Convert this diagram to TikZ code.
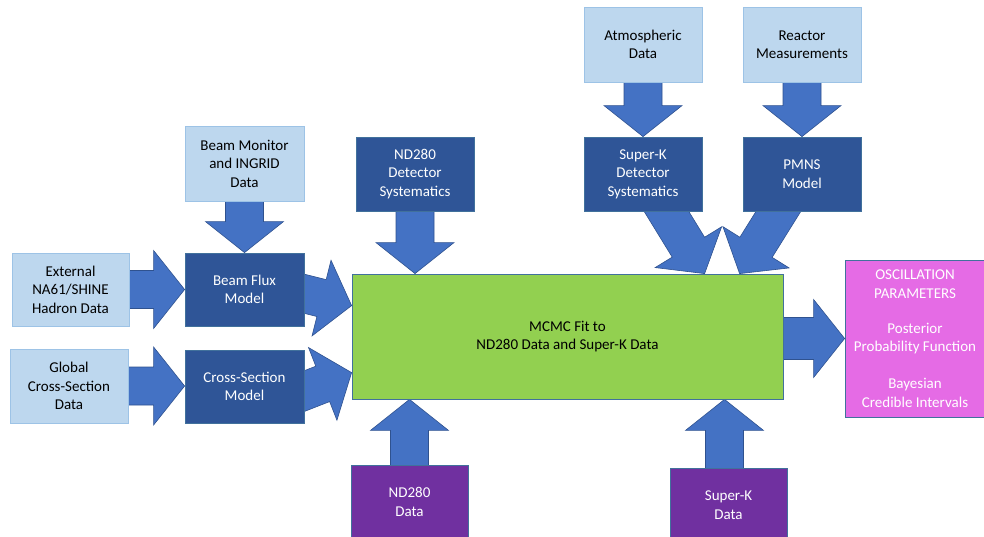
\documentclass[tikz,border=0pt]{standalone}
\usepackage{fontspec}
\setmainfont{Carlito}
\usetikzlibrary{calc,backgrounds}

\definecolor{lightbox}{HTML}{BDD7EE}
\definecolor{lightedge}{HTML}{9DC3E6}
\definecolor{darkbox}{HTML}{2F5597}
\definecolor{darkedge}{HTML}{41719C}
\definecolor{arrowblue}{HTML}{4472C4}
\definecolor{arrowedge}{HTML}{2F528F}
\definecolor{fitgreen}{HTML}{92D050}
\definecolor{datapurple}{HTML}{7030A0}
\definecolor{resultpink}{HTML}{E56BE5}

\tikzset{
  box/.style={rectangle, align=center, inner sep=0pt, line width=0.8pt,
    minimum width=118pt, minimum height=74pt,
    font=\fontsize{15}{18.5}\selectfont},
  inbox/.style={box, fill=lightbox, draw=lightedge, text=black},
  modelbox/.style={box, fill=darkbox, draw=darkedge, text=white},
  databox/.style={box, fill=datapurple, draw=darkedge, text=white},
  fitbox/.style={box, fill=fitgreen, draw=darkedge, text=black},
  outbox/.style={box, fill=resultpink, draw=darkedge, text=white},
  fatarrow/.style={fill=arrowblue, draw=arrowedge, line width=0.6pt},
}

% block arrow from #2 to its tip #3, half width of the shaft #1
\newcommand{\fatarrow}[3][19pt]{%
  \coordinate (fa-b) at ($(#3)!31pt!(#2)$);
  \draw[fatarrow] ($(#2)!#1!90:(#3)$) -- ($(fa-b)!#1!90:(#3)$)
    -- ($(fa-b)!39pt!90:(#3)$) -- (#3) -- ($(fa-b)!39pt!-90:(#3)$)
    -- ($(fa-b)!#1!-90:(#3)$) -- ($(#2)!#1!-90:(#3)$) -- cycle;
}

\begin{document}
\begin{tikzpicture}[x=1pt,y=-1pt]
  \useasboundingbox (0,0) rectangle (984,537);

  % beam side
  \node[inbox, minimum width=119pt, minimum height=75pt] (beammon) at (244.5,163.5) {Beam Monitor\\and INGRID\\Data};
  \node[inbox, minimum width=117pt, minimum height=73pt] (external) at (70.5,289.5) {External\\NA61/SHINE\\Hadron Data};
  \node[inbox] (global) at (69,386) {Global\\Cross-Section\\Data};
  \node[modelbox, minimum width=119pt, minimum height=73pt] (flux) at (244.5,289.5) {Beam Flux\\Model};
  \node[modelbox, minimum width=119pt, minimum height=73pt] (xsec) at (244.5,386.5) {Cross-Section\\Model};

  % detectors and oscillation inputs
  \node[modelbox] (ndsys) at (415,174) {ND280\\Detector\\Systematics};
  \node[modelbox] (sksys) at (643,174) {Super-K\\Detector\\Systematics};
  \node[modelbox] (pmns) at (802,174) {PMNS\\Model};
  \node[inbox, minimum height=75pt] (atmos) at (643,44.5) {Atmospheric\\Data};
  \node[inbox, minimum height=75pt] (reactor) at (802,44.5) {Reactor\\Measurements};

  % fit and result
  \node[fitbox, minimum width=431pt, minimum height=125pt] (fit) at (567.5,336.5) {MCMC Fit to\\ND280 Data and Super-K Data};
  \node[outbox, minimum width=140pt, minimum height=157pt] (osc) at (915,338.5)
    {OSCILLATION\\PARAMETERS\\[16.5pt]Posterior\\Probability Function\\[18.5pt]Bayesian\\Credible Intervals};

  % data
  \node[databox, minimum width=117pt] (nddata) at (409.5,502) {ND280\\Data};
  \node[databox, minimum width=117pt] (skdata) at (728.5,505) {Super-K\\Data};

  % arrow ends
  \coordinate (global-in) at (global.center -| xsec.west);
  \coordinate (flux-out) at ($(flux.east)+(-29,-3)$);
  \coordinate (flux-in) at ($(fit.north west)+(0,32)$);
  \coordinate (xsec-out) at ($(xsec.east)+(-28,15.5)$);
  \coordinate (xsec-in) at ($(fit.north west)+(0,99)$);
  \coordinate (ndsys-in) at (ndsys.south |- fit.north);
  \coordinate (sksys-out) at ($(sksys.south)+(13,-17)$);
  \coordinate (sksys-in) at ($(fit.north west)+(353,0)$);
  \coordinate (pmns-out) at ($(pmns.south)+(-13,-17)$);
  \coordinate (pmns-in) at ($(fit.north west)+(388,0)$);
  \coordinate (fit-out) at (osc.west -| fit.center);
  \coordinate (nddata-in) at (nddata.center |- fit.south);
  \coordinate (skdata-in) at ($(skdata.center |- fit.south)+(-4,0)$);
  \coordinate (skdata-out) at ($(skdata.center)+(-4,0)$);

  \begin{scope}[on background layer]
    \fatarrow{beammon.center}{flux.north}
    \fatarrow{external.center}{flux.west}
    \fatarrow{global.center}{global-in}
    \fatarrow{flux-out}{flux-in}
    \fatarrow{xsec-out}{xsec-in}
    \fatarrow{ndsys.center}{ndsys-in}
    \fatarrow{atmos.center}{sksys.north}
    \fatarrow{reactor.center}{pmns.north}
    \fatarrow{sksys-out}{sksys-in}
    \fatarrow{pmns-out}{pmns-in}
    \fatarrow[21pt]{fit-out}{osc.west}
    \fatarrow{nddata.center}{nddata-in}
    \fatarrow{skdata-out}{skdata-in}
  \end{scope}
\end{tikzpicture}
\end{document}
